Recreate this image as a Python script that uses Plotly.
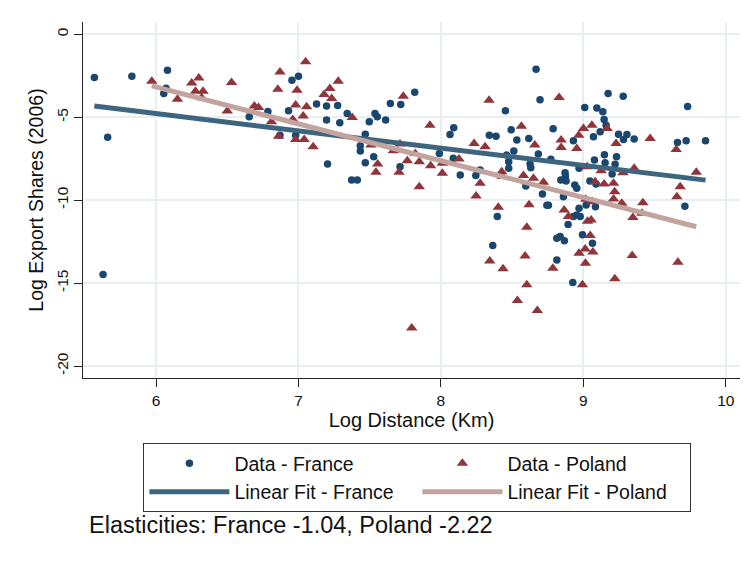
import numpy as np
import plotly.graph_objects as go

# Log distance (km) and log export shares (2006), France
france_dist = [5.567, 5.83, 6.08, 6.054, 6.07, 5.66, 5.628, 6.654, 6.785, 6.93,
               6.954, 7.0, 6.87, 6.98, 7.127, 7.197, 7.275, 7.197, 7.29, 7.342,
               7.537, 7.553, 7.497, 7.612, 7.645, 7.718, 7.816, 7.469, 7.434, 7.434,
               7.528, 7.469, 7.204, 7.373, 7.413, 7.713, 7.989, 8.064, 8.09, 8.087,
               8.136, 8.245, 8.275, 8.34, 8.387, 8.396, 8.668, 8.696, 8.453, 9.174,
               9.28, 9.01, 9.095, 9.137, 9.146, 9.16, 9.118, 9.071, 9.247, 9.306,
               9.282, 9.357, 9.732, 9.661, 9.722, 9.858, 8.788, 8.93, 8.493, 8.533,
               8.617, 8.512, 8.462, 8.476, 8.476, 8.684, 8.626, 8.631, 8.772, 9.078,
               9.148, 9.233, 9.153, 9.223, 8.97, 8.872, 8.874, 8.842, 8.879, 9.202,
               9.046, 9.089, 8.94, 8.954, 8.596, 8.713, 8.86, 8.744, 8.755, 8.97,
               8.954, 9.085, 9.713, 8.93, 8.978, 8.893, 8.994, 8.814, 8.837, 8.867,
               9.064, 8.364, 8.814, 8.926, 9.02]
france_share = [-2.61, -2.53, -2.17, -3.57, -3.25, -6.2, -14.48, -4.97, -4.65, -4.61,
                -2.77, -2.53, -6.08, -6.08, -4.21, -4.33, -4.29, -5.17, -5.34, -4.77,
                -4.77, -4.97, -5.27, -5.17, -4.17, -4.23, -3.49, -6.02, -6.72, -7.04,
                -7.38, -7.74, -7.82, -8.78, -8.78, -7.98, -7.18, -6.04, -5.64, -7.48,
                -8.48, -8.52, -8.18, -6.08, -6.14, -10.99, -2.11, -3.95, -4.61, -3.57,
                -3.73, -4.41, -4.45, -4.67, -5.13, -5.48, -5.88, -6.18, -6.02, -6.04,
                -6.34, -6.32, -4.35, -6.52, -6.42, -6.42, -5.70, -6.42, -5.76, -6.38,
                -6.28, -7.04, -7.28, -7.68, -8.08, -7.22, -7.82, -8.04, -7.54, -7.58,
                -7.26, -7.38, -7.74, -7.84, -8.08, -8.34, -8.58, -8.78, -8.84, -8.42,
                -8.84, -9.03, -9.09, -9.28, -9.15, -9.63, -9.79, -10.31, -10.31, -10.49,
                -10.89, -10.39, -10.37, -10.99, -10.99, -11.47, -12.09, -12.29, -12.19, -12.45,
                -12.6, -12.74, -13.6, -14.96, -10.29]

# Log distance (km) and log export shares (2006), Poland
poland_dist = [5.97, 6.25, 6.30, 6.277, 6.33, 6.32, 6.15, 6.53, 6.50, 6.69,
               6.72, 6.87, 6.855, 6.99, 6.98, 6.81, 6.96, 6.86, 6.98, 7.05,
               7.279, 7.22, 7.18, 7.233, 7.057, 7.033, 7.377, 7.736, 7.04, 7.103,
               7.509, 7.666, 7.713, 7.556, 7.544, 7.706, 7.764, 7.82, 7.848, 7.848,
               7.923, 7.928, 8.01, 8.01, 8.127, 8.233, 8.31, 8.338, 8.275, 8.247,
               8.403, 8.619, 8.603, 8.865, 8.895, 9.029, 9.055, 9.048, 9.013, 9.067,
               8.97, 9.015, 8.994, 8.591, 8.343, 8.436, 8.603, 8.537, 8.677, 8.786,
               9.221, 9.343, 9.664, 9.348, 9.418, 9.411, 9.27, 7.795, 8.83, 8.565,
               8.659, 8.844, 8.844, 8.954, 8.968, 9.001, 9.06, 9.167, 9.23, 9.469,
               9.652, 9.793, 9.68, 9.657, 8.427, 8.431, 8.58, 8.65, 8.72, 9.027,
               9.083, 9.146, 9.212, 9.22, 9.212, 9.278, 9.357, 9.125, 9.063, 9.017]
poland_share = [-2.83, -2.93, -2.63, -3.43, -3.43, -3.83, -3.91, -2.91, -4.63, -4.33,
                -4.41, -2.27, -3.31, -3.37, -4.27, -5.28, -5.13, -6.14, -6.34, -1.66,
                -2.83, -3.27, -3.63, -3.87, -4.37, -4.93, -5.01, -3.73, -6.34, -6.78,
                -6.68, -7.02, -6.62, -7.82, -8.32, -8.32, -7.62, -7.18, -7.68, -9.19,
                -5.48, -7.92, -7.78, -8.38, -7.52, -6.58, -6.78, -3.97, -8.98, -9.75,
                -10.43, -10.27, -11.63, -10.59, -10.99, -11.27, -11.19, -12.13, -12.95, -13.13,
                -13.2, -13.8, -15.1, -13.36, -13.66, -14.14, -15.1, -16.05, -16.65, -14.1,
                -14.74, -13.34, -13.74, -11.05, -10.15, -10.79, -10.19, -17.71, -3.81, -5.54,
                -6.68, -6.38, -6.82, -6.88, -6.08, -5.68, -5.48, -5.68, -6.58, -6.28,
                -6.94, -8.32, -9.19, -9.79, -8.28, -8.58, -8.52, -8.68, -8.92, -7.98,
                -8.89, -9.03, -8.98, -9.49, -9.93, -8.34, -8.08, -8.22, -10.09, -9.95]

# Linear fit coefficients (intercept, distance elasticity)
france_fit = (1.46, -1.04)
poland_fit = (10.14, -2.22)

x_ticks = [6, 7, 8, 9, 10]
y_ticks = [0, -5, -10, -15, -20]
y_tick_text = ["0", "-5", "-10", "-15", "-20"]

NAVY = "#1a476f"
MAROON = "#90353b"
FR_LINE = "#3e6580"
PL_LINE = "#c2a39e"
GRID = "#e9eff1"
FONT = "Liberation Sans, Arial, sans-serif"


def fit_line(dist, coef):
    xs = np.array([min(dist), max(dist)])
    return xs, coef[0] + coef[1] * xs


fig = go.Figure()
fig.add_trace(go.Scatter(
    x=france_dist, y=france_share, mode="markers", name="Data - France",
    marker=dict(symbol="circle", size=7.5, color=NAVY, line=dict(width=0)),
))
fig.add_trace(go.Scatter(
    x=poland_dist, y=poland_share, mode="markers", name="Data - Poland",
    marker=dict(symbol="triangle-up", size=10, color=MAROON, line=dict(width=0)),
))
fx, fy = fit_line(france_dist, france_fit)
fig.add_trace(go.Scatter(
    x=fx, y=fy, mode="lines", name="Linear Fit - France",
    line=dict(color=FR_LINE, width=5),
))
px_, py_ = fit_line(poland_dist, poland_fit)
fig.add_trace(go.Scatter(
    x=px_, y=py_, mode="lines", name="Linear Fit - Poland",
    line=dict(color=PL_LINE, width=5),
))

axis_common = dict(
    showgrid=True, gridcolor=GRID, gridwidth=1.5, zeroline=False,
    showline=True, linecolor="#222222", linewidth=1,
    ticks="outside", ticklen=8, tickcolor="#222222", tickwidth=1,
    tickfont=dict(size=15.5, color="#111111", family=FONT),
)

fig.update_xaxes(
    range=[5.487, 10.10], tickvals=x_ticks, ticktext=[str(v) for v in x_ticks],
    title=dict(text="Log Distance (Km)", font=dict(size=20, color="#111111"), standoff=5),
    **axis_common,
)
fig.update_yaxes(
    range=[-20.72, 0.74], tickvals=y_ticks, ticktext=y_tick_text, tickangle=-90,
    title=dict(text="Log Export Shares (2006)", font=dict(size=19.5, color="#111111"), standoff=4),
    **axis_common,
)

fig.add_annotation(
    text="Elasticities: France -1.04, Poland -2.22",
    xref="paper", yref="paper", x=0.006, y=-0.413,
    xanchor="left", yanchor="middle", showarrow=False,
    font=dict(size=23.5, color="#111111", family=FONT),
)

fig.update_layout(
    width=747, height=563,
    margin=dict(l=83, r=7, t=22, b=185),
    paper_bgcolor="white", plot_bgcolor="white",
    font=dict(family=FONT, color="#111111"),
    legend=dict(
        orientation="h", x=0.509, xanchor="center", y=-0.183, yanchor="top",
        bordercolor="#333333", borderwidth=1, bgcolor="white",
        font=dict(size=19.5, color="#111111"),
        entrywidth=178, entrywidthmode="pixels", itemwidth=80,
        tracegroupgap=0,
    ),
    showlegend=True,
)

fig.write_html("out.html")
